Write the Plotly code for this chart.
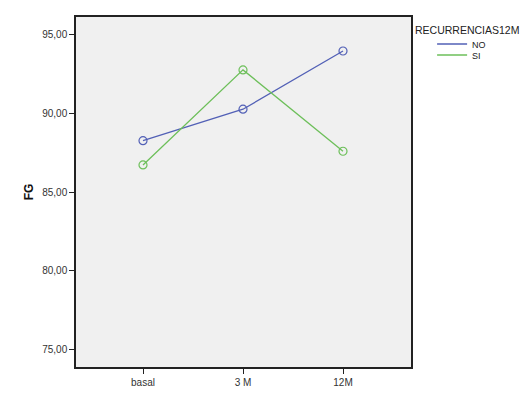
import plotly.graph_objects as go

categories = ["basal", "3 M", "12M"]
no_values = [88.26, 90.26, 93.96]
si_values = [86.72, 92.76, 87.59]
y_ticks = [75, 80, 85, 90, 95]
y_tick_labels = ["75,00", "80,00", "85,00", "90,00", "95,00"]
legend_title = "RECURRENCIAS12M"

FONT = "Liberation Sans, Arial, sans-serif"
BLUE = "#5260b6"
GREEN = "#6dbf5a"

fig = go.Figure()
fig.add_trace(go.Scatter(
    x=[0, 1, 2], y=no_values, name="NO", mode="lines+markers", showlegend=False,
    line=dict(color=BLUE, width=1.3),
    marker=dict(symbol="circle-open", size=8, color=BLUE, line=dict(width=1.2)),
))
fig.add_trace(go.Scatter(
    x=[0, 1, 2], y=si_values, name="SI", mode="lines+markers", showlegend=False,
    line=dict(color=GREEN, width=1.3),
    marker=dict(symbol="circle-open", size=8, color=GREEN, line=dict(width=1.2)),
))
# legend entries (lines only, as in the reference)
fig.add_trace(go.Scatter(x=[None], y=[None], name="NO", mode="lines",
                         line=dict(color=BLUE, width=1.3), legend="legend"))
fig.add_trace(go.Scatter(x=[None], y=[None], name="SI", mode="lines",
                         line=dict(color=GREEN, width=1.3), legend="legend2"))

leg_common = dict(xanchor="left", yanchor="middle",
                  font=dict(family=FONT, size=9, color="#222222"),
                  bgcolor="rgba(0,0,0,0)", itemwidth=30, borderwidth=0)

fig.update_layout(
    width=532, height=393,
    margin=dict(l=76, r=121, t=17, b=26),
    paper_bgcolor="white",
    plot_bgcolor="#f0f0f0",
    font=dict(family=FONT, size=10, color="#333333"),
    showlegend=True,
    legend=dict(x=1.063, y=0.9228, **leg_common),
    legend2=dict(x=1.063, y=0.8914, **leg_common),
    annotations=[dict(
        text=legend_title, xref="paper", yref="paper", x=1.007, y=0.963,
        xanchor="left", yanchor="middle", showarrow=False,
        font=dict(family=FONT, size=10.5, color="#222222"),
    )],
)
fig.update_xaxes(
    range=[-0.67, 2.68], automargin=False,
    tickmode="array", tickvals=[0, 1, 2], ticktext=categories,
    showgrid=False, zeroline=False,
    ticks="outside", ticklen=5, tickcolor="#222222", tickwidth=1,
    showline=True, linecolor="#222222", linewidth=1.5, mirror=True,
    tickfont=dict(size=10, color="#333333"),
)
fig.update_yaxes(
    range=[73.88, 96.12], automargin=False,
    tickmode="array", tickvals=y_ticks, ticktext=y_tick_labels,
    showgrid=False, zeroline=False,
    ticks="outside", ticklen=5, tickcolor="#222222", tickwidth=1,
    showline=True, linecolor="#222222", linewidth=1.5, mirror=True,
    tickfont=dict(size=10, color="#333333"),
    title=dict(text="<b>FG</b>", font=dict(size=12, color="#111111"), standoff=6),
)

fig.write_html("out.html", config={"displayModeBar": False},
               post_script="document.body.style.margin='0';")
